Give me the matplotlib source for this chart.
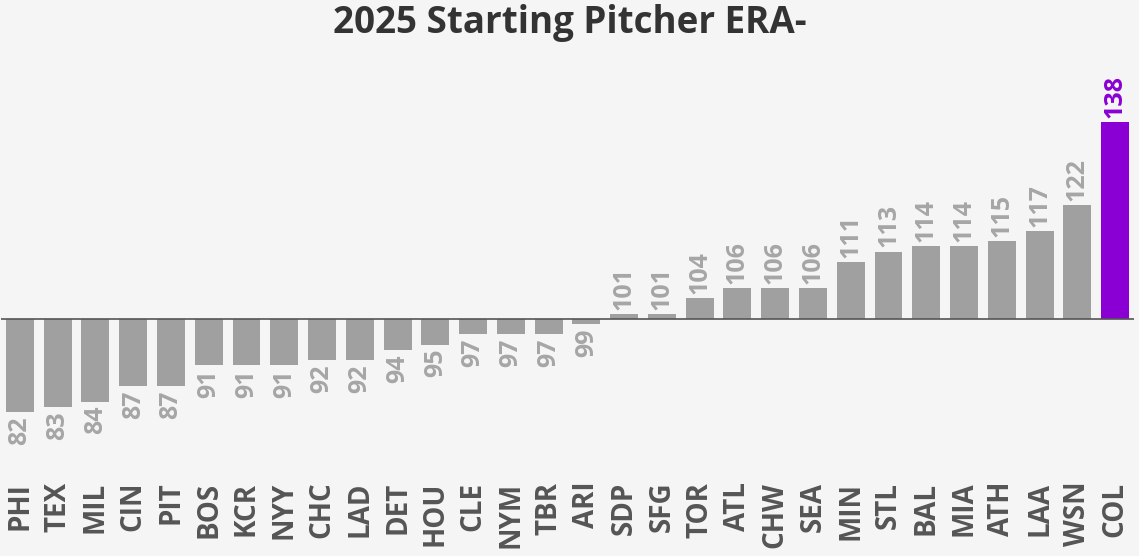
import matplotlib.pyplot as plt

teams = ['PHI', 'TEX', 'MIL', 'CIN', 'PIT', 'BOS', 'KCR', 'NYY', 'CHC', 'LAD',
         'DET', 'HOU', 'CLE', 'NYM', 'TBR', 'ARI', 'SDP', 'SFG', 'TOR', 'ATL',
         'CHW', 'SEA', 'MIN', 'STL', 'BAL', 'MIA', 'ATH', 'LAA', 'WSN', 'COL']
era_minus = [82, 83, 84, 87, 87, 91, 91, 91, 92, 92,
             94, 95, 97, 97, 97, 99, 101, 101, 104, 106,
             106, 106, 111, 113, 114, 114, 115, 117, 122, 138]
highlight = 'COL'

bg = '#f5f5f5'
gray = '#a0a0a0'
purple = '#8a00d4'

plt.rcParams['font.family'] = ['Open Sans', 'DejaVu Sans']

fig = plt.figure(figsize=(11.39, 5.56), dpi=100, facecolor=bg)
ax = fig.add_axes([1 / 1139, 1 - 440 / 556, 1133 / 1139, 380 / 556])
ax.set_facecolor(bg)

x = range(len(teams))
colors = [purple if t == highlight else gray for t in teams]
heights = [v - 100 for v in era_minus]
ax.bar(x, heights, bottom=100, width=0.74, color=colors)
ax.axhline(100, color='#555555', lw=1.2)

for i, v in enumerate(era_minus):
    c = purple if teams[i] == highlight else '#a6a6a6'
    if v >= 100:
        ax.annotate(str(v), (i, v), xytext=(0, 3), textcoords='offset points',
                    rotation=90, ha='center', va='bottom', fontsize=18,
                    fontweight='bold', color=c)
    else:
        ax.annotate(str(v), (i, v), xytext=(0, -3), textcoords='offset points',
                    rotation=90, ha='center', va='top', fontsize=18,
                    fontweight='bold', color=c)

ax.set_xlim(-0.5, len(teams) - 0.5)
ax.set_ylim(76.6, 150)
ax.set_xticks(list(x))
ax.set_xticklabels(teams, rotation=90, fontsize=20, fontweight='bold', color='#555555')
ax.tick_params(axis='x', length=0, pad=30)
ax.set_yticks([])
for s in ax.spines.values():
    s.set_visible(False)

fig.text(0.5, 1 - 23 / 556, '2025 Starting Pitcher ERA-', ha='center', va='center',
         fontsize=26.5, fontweight='bold', color='#333333')

fig.savefig('out.png', dpi=100, facecolor=bg)
